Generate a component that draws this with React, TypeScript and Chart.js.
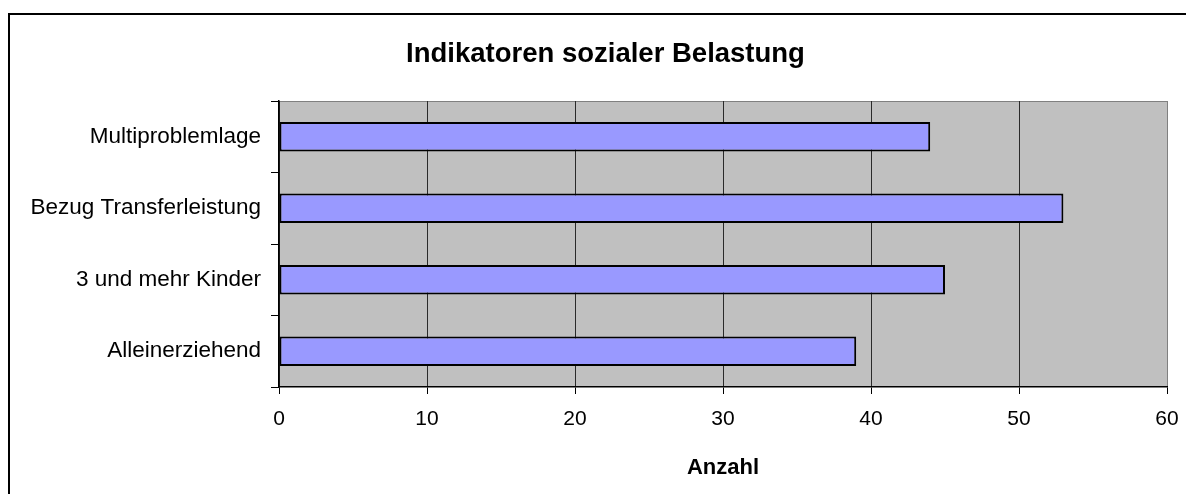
import React, { useEffect, useRef } from 'react';
import { Chart, registerables } from 'chart.js';

Chart.register(...registerables);

const categories = ['Multiproblemlage', 'Bezug Transferleistung', '3 und mehr Kinder', 'Alleinerziehend'];
const counts = [44, 53, 45, 39];
const xTickValues = [0, 10, 20, 30, 40, 50, 60];
const chartTitle = 'Indikatoren sozialer Belastung';
const xAxisTitle = 'Anzahl';

const FONT = "'Liberation Sans', Arial, Helvetica, sans-serif";

const framePlugin = {
  id: 'excelFrame',
  beforeDraw(chart: any) {
    const { ctx, chartArea: a } = chart;
    ctx.save();
    ctx.fillStyle = '#ffffff';
    ctx.fillRect(0, 0, chart.width, chart.height);
    ctx.strokeStyle = '#000000';
    ctx.lineWidth = 2;
    ctx.strokeRect(9, 14, chart.width + 40, chart.height + 40);
    ctx.fillStyle = '#c0c0c0';
    ctx.fillRect(a.left, a.top, a.right - a.left, a.bottom - a.top);
    ctx.strokeStyle = '#808080';
    ctx.lineWidth = 1;
    ctx.beginPath();
    ctx.moveTo(a.left, a.top + 0.5);
    ctx.lineTo(a.right, a.top + 0.5);
    ctx.stroke();
    ctx.restore();
  },
  afterDraw(chart: any) {
    const { ctx } = chart;
    ctx.save();
    ctx.fillStyle = '#000000';
    ctx.font = `bold 27.5px ${FONT}`;
    ctx.textAlign = 'center';
    ctx.textBaseline = 'alphabetic';
    ctx.fillText(chartTitle, 605.5, 62);
    ctx.restore();
  },
};

export default function App() {
  const canvasRef = useRef<HTMLCanvasElement | null>(null);

  useEffect(() => {
    if (!canvasRef.current) return;
    const chart = new Chart(canvasRef.current, {
      type: 'bar',
      data: {
        labels: categories,
        datasets: [
          {
            label: xAxisTitle,
            data: counts,
            backgroundColor: '#9999ff',
            borderColor: '#000000',
            borderWidth: 2,
            borderSkipped: false,
            categoryPercentage: 1,
            barPercentage: 0.415,
          },
        ],
      },
      options: {
        indexAxis: 'y',
        responsive: false,
        animation: false,
        layout: { padding: { left: 0, right: 19, top: 101, bottom: 0 } },
        plugins: {
          legend: { display: false },
          tooltip: { enabled: false },
          title: { display: false },
        },
        scales: {
          x: {
            type: 'linear',
            min: 0,
            max: 60,
            afterBuildTicks(scale: any) {
              scale.ticks = xTickValues.map((v) => ({ value: v }));
            },
            afterFit(scale: any) {
              scale.height = 107;
              scale.paddingLeft = 0;
              scale.paddingRight = 0;
            },
            ticks: {
              color: '#000000',
              font: { family: FONT, size: 21 },
              padding: 13,
              maxRotation: 0,
            },
            grid: {
              color: (ctx: any) => (ctx.tick && ctx.tick.value === 60 ? '#808080' : '#2a2a2a'),
              tickColor: '#000000',
              lineWidth: 1,
              tickLength: 7,
              drawTicks: true,
            },
            border: { display: true, color: '#000000', width: 1.5 },
            title: {
              display: true,
              text: xAxisTitle,
              color: '#000000',
              font: { family: FONT, size: 22, weight: 'bold', lineHeight: 1.2 },
              padding: { top: 0, bottom: 12.4 },
            },
          },
          y: {
            type: 'category',
            afterFit(scale: any) {
              scale.width = 279;
              scale.paddingTop = 0;
              scale.paddingBottom = 0;
            },
            ticks: {
              color: '#000000',
              font: { family: FONT, size: 22.5 },
              padding: 10,
            },
            grid: {
              drawOnChartArea: false,
              drawTicks: true,
              tickLength: 8,
              color: '#000000',
              lineWidth: 1,
              offset: true,
            },
            border: { display: true, color: '#000000', width: 1.5 },
          },
        },
      },
      plugins: [framePlugin],
    } as any);
    return () => chart.destroy();
  }, []);

  return (
    <div style={{ position: 'fixed', left: 0, top: 0, width: 1186, height: 494, background: '#fff' }}>
      <canvas ref={canvasRef} width={1186} height={494} style={{ display: 'block', width: 1186, height: 494 }} />
    </div>
  );
}
